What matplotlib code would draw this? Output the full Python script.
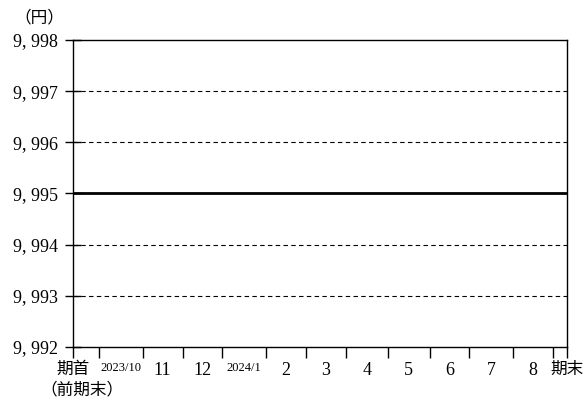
import matplotlib.pyplot as plt

plt.rcParams['font.family'] = ['Liberation Serif', 'Noto Sans CJK JP']

# 営業日ベースの位置 (期首=0)
month_bounds = [0, 13, 35, 55, 75, 97, 117, 137, 158, 179, 199, 221, 241, 248]
month_labels = ['2023/10', '11', '12', '2024/1', '2', '3', '4', '5', '6', '7', '8']
nav = [9995] * len(month_bounds)

y_ticks = [9992, 9993, 9994, 9995, 9996, 9997, 9998]
y_labels = ['9, 992', '9, 993', '9, 994', '9, 995', '9, 996', '9, 997', '9, 998']

fig = plt.figure(figsize=(5.88, 4.0), dpi=100)
ax = fig.add_axes([0.1241, 0.1325, 0.8402, 0.7675])

for y in [9993, 9994, 9996, 9997]:
    ax.axhline(y, color='black', linestyle=(0, (4, 3)), linewidth=0.8, zorder=1)

ax.plot(month_bounds, nav, color='black', linewidth=2.0, zorder=3)

ax.set_xlim(month_bounds[0], month_bounds[-1])
ax.set_ylim(9992, 9998)

ax.set_yticks(y_ticks)
ax.set_yticklabels(y_labels, fontsize=13)
ax.tick_params(axis='y', direction='inout', length=12, width=1, pad=5)

major_labels = ['期首'] + [''] * (len(month_bounds) - 2) + ['期末']
ax.set_xticks(month_bounds)
ax.set_xticklabels(major_labels, fontsize=12)
mids = [(a + b) / 2 for a, b in zip(month_bounds[1:-2], month_bounds[2:-1])]
ax.set_xticks(mids, minor=True)
ax.set_xticklabels(month_labels, minor=True, fontsize=13)
for lab in ax.get_xticklabels(minor=True):
    if '/' in lab.get_text():
        lab.set_fontsize(9)
ax.tick_params(axis='x', which='major', direction='out', length=8, width=1, pad=3)
ax.tick_params(axis='x', which='minor', length=0, pad=11)

for s in ax.spines.values():
    s.set_linewidth(1.0)
    s.set_color('black')

fig.text(0.025, 0.955, '（円）', fontsize=12, ha='left', va='center')
fig.text(0.068, 0.025, '（前期末）', fontsize=12, ha='left', va='center')

fig.savefig('out.png', dpi=100)
